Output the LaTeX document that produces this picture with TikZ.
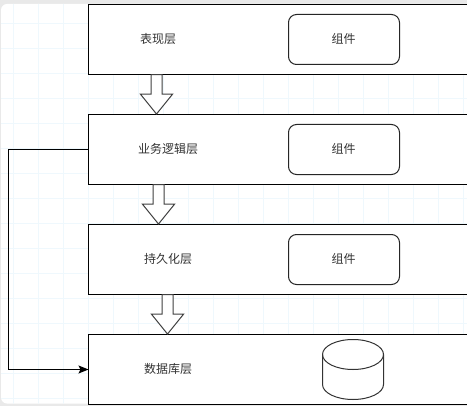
\documentclass[tikz,border=0pt]{standalone}
\usepackage{fontspec}
\setmainfont{Noto Sans CJK SC}
\usetikzlibrary{shapes.arrows,arrows.meta}
\definecolor{gridc}{HTML}{EFF8FD}
\definecolor{pagec}{HTML}{E9E9E9}
\definecolor{inkc}{HTML}{333333}
\tikzset{
  x=0.75pt,y=-0.75pt,
  layerbox/.style={draw=black,fill=white,line width=0.75pt,rectangle,inner sep=0,outer sep=0,minimum width=420*0.75pt,minimum height=70*0.75pt,anchor=north west},
  compbox/.style={draw=black!85,fill=white,line width=0.75pt,rectangle,rounded corners=6pt,inner sep=0,outer sep=0,minimum width=111*0.75pt,minimum height=50*0.75pt},
  lbl/.style={font=\fontsize{9}{9}\selectfont,text=inkc,inner sep=0,outer sep=0},
  hollow/.style={draw=black!75,fill=white,line width=0.75pt,single arrow,rotate=-90,single arrow head extend=10.5*0.75pt,single arrow tip angle=78,text width=0pt,text height=10*0.75pt,text depth=0pt,minimum height=39.5*0.75pt,inner sep=0,outer sep=0,anchor=west},
  link/.style={draw=black,line width=0.75pt},
  dbline/.style={draw=black!80,line width=0.75pt,fill=white},
}
\begin{document}
\begin{tikzpicture}
\useasboundingbox (0,0) rectangle (467,406);
\clip (0,0) rectangle (467,406);
\fill[pagec] (0,0) rectangle (467,406);
\fill[white,rounded corners=4.5pt] (1,4) rectangle (480,403.5);
\begin{scope}
\clip[rounded corners=4.5pt] (1,4) rectangle (480,403.5);
\foreach \i in {0,...,18} {\draw[gridc,line width=0.75pt] (13.5+25*\i,0) -- (13.5+25*\i,406);}
\foreach \i in {0,...,15} {\draw[gridc,line width=0.75pt] (0,23.5+25*\i) -- (467,23.5+25*\i);}
\end{scope}
% layers
\node[layerbox] (l1) at (88.5,4.5) {};
\node[layerbox] (l2) at (88.5,114.5) {};
\node[layerbox] (l3) at (88.5,224.5) {};
\node[layerbox] (l4) at (88.5,334.5) {};
% labels
\node[lbl] (t1) at (158,38.5) {表现层};
\node[lbl] (t2) at (168,148.5) {业务逻辑层};
\node[lbl] (t3) at (168,258.5) {持久化层};
\node[lbl] (t4) at (168,368.5) {数据库层};
% components
\node[compbox] (c1) at (344,39.5) {};
\node[compbox] (c2) at (344,149.5) {};
\node[compbox] (c3) at (344,259.5) {};
\node[lbl] (ct1) at (343.5,38.5) {组件};
\node[lbl] (ct2) at (343.5,148.5) {组件};
\node[lbl] (ct3) at (343.5,258.5) {组件};
% hollow arrows
\node[hollow] (a1) at (156.5,74.5) {};
\node[hollow] (a2) at (158.5,184.5) {};
\node[hollow] (a3) at (167.5,294.5) {};
% database
\path[dbline] (322.5,354.5) arc[start angle=180,end angle=0,x radius=30.5,y radius=-15]
  -- (383.5,384.5) arc[start angle=0,end angle=-180,x radius=30.5,y radius=-15] -- cycle;
\draw[dbline,fill=none] (322.5,354.5) arc[start angle=180,end angle=360,x radius=30.5,y radius=-15];
% link
\coordinate (k1) at (8.5,149.5);
\coordinate (k2) at (8.5,369.5);
\draw[link,-{Stealth[length=7.5pt,width=6pt,inset=1.5pt]}] (l2.west |- k1) -- (k1) -- (k2) -- (l4.west |- k2);
\end{tikzpicture}
\end{document}
